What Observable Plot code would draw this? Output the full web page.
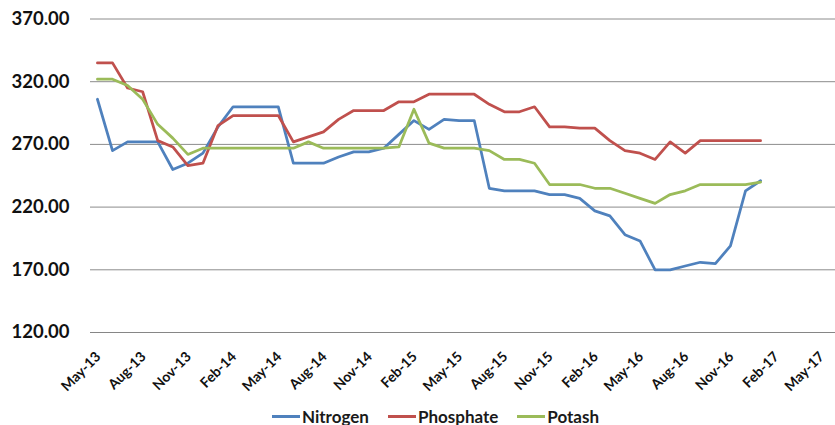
<!DOCTYPE html>
<html><head><meta charset="utf-8">
<script src="https://cdn.jsdelivr.net/npm/d3@7"></script>
<script src="https://cdn.jsdelivr.net/npm/@observablehq/plot@0.6"></script>
<style>
body{margin:0;background:#fff;font-family:Lato,"Open Sans",sans-serif;}
#wrap{position:relative;width:835px;height:425px;overflow:hidden;}
#chart svg{display:block;}
#legend{position:absolute;left:272px;top:405px;height:22px;display:flex;align-items:center;font:bold 17px Lato,sans-serif;color:#1a1a1a;}
.item{display:flex;align-items:center;margin-right:19px;}
.sw{width:28px;height:3px;margin-right:2px;}
</style></head><body>
<div id="wrap"><div id="chart"></div><div id="legend"></div></div>
<script>
const months = ["May-13","Jun-13","Jul-13","Aug-13","Sep-13","Oct-13","Nov-13","Dec-13",
  "Jan-14","Feb-14","Mar-14","Apr-14","May-14","Jun-14","Jul-14","Aug-14","Sep-14","Oct-14","Nov-14","Dec-14",
  "Jan-15","Feb-15","Mar-15","Apr-15","May-15","Jun-15","Jul-15","Aug-15","Sep-15","Oct-15","Nov-15","Dec-15",
  "Jan-16","Feb-16","Mar-16","Apr-16","May-16","Jun-16","Jul-16","Aug-16","Sep-16","Oct-16","Nov-16","Dec-16",
  "Jan-17"];
const tickLabels = ["May-13","Aug-13","Nov-13","Feb-14","May-14","Aug-14","Nov-14","Feb-15","May-15",
  "Aug-15","Nov-15","Feb-16","May-16","Aug-16","Nov-16","Feb-17","May-17"];
const yTicks = [120, 170, 220, 270, 320, 370];
const seriesNames = ["Nitrogen", "Phosphate", "Potash"];
const seriesColors = ["#4F81BD", "#C0504D", "#9BBB59"];

const nitrogen = [306,265,272,272,272,250,255,263,284,300,300,300,300,255,255,255,260,264,264,267,
  278,289,282,290,289,289,235,233,233,233,230,230,227,217,213,198,193,170,170,173,176,175,189,233,241];
const phosphate = [335,335,315,312,273,268,253,255,285,293,293,293,293,272,276,280,290,297,297,297,
  304,304,310,310,310,310,302,296,296,300,284,284,283,283,273,265,263,258,272,263,273,273,273,273,273];
const potash = [322,322,317,306,286,275,262,267,267,267,267,267,267,267,272,267,267,267,267,267,
  268,298,271,267,267,267,265,258,258,255,238,238,238,235,235,231,227,223,230,233,238,238,238,238,240];

const values = [nitrogen, phosphate, potash];
const data = [];
seriesNames.forEach((s, k) => values[k].forEach((v, i) => data.push({series: s, i, month: months[i], value: v})));

// tick position = index of month label in months (3-month steps, May-17 beyond data)
const tickIdx = tickLabels.map((_, k) => k * 3);

const chart = Plot.plot({
  width: 835,
  height: 400,
  marginLeft: 90,
  marginRight: 0,
  marginTop: 18.5,
  marginBottom: 68,
  x: {type: "linear", domain: [-0.46, 48.97]},
  y: {domain: [120, 370]},
  color: {domain: seriesNames, range: seriesColors},
  style: {fontFamily: "Lato, sans-serif", background: "#fff"},
  marks: [
    Plot.gridY(yTicks.slice(1), {stroke: "#8c8c8c", strokeOpacity: 1, strokeWidth: 1}),
    Plot.ruleY([120], {stroke: "#868686", strokeWidth: 1}),
    Plot.axisY({ticks: yTicks, tickSize: 0, tickPadding: 21, tickFormat: d => d.toFixed(2),
      fontSize: 18.5, fontWeight: "bold", fill: "#111", label: null}),
    Plot.axisX({ticks: tickIdx, tickSize: 0, tickRotate: -45, tickFormat: i => tickLabels[i / 3],
      fontSize: 14, fontWeight: "bold", fill: "#111", textAnchor: "end", dx: 1, dy: 10, label: null}),
    Plot.line(data, {x: "i", y: "value", z: "series", stroke: "series", strokeWidth: 2.75,
      strokeLinejoin: "round"})
  ]
});
document.getElementById("chart").appendChild(chart);

const legend = document.getElementById("legend");
seriesNames.forEach((s, k) => {
  const it = document.createElement("div");
  it.className = "item";
  it.innerHTML = `<span class="sw" style="background:${seriesColors[k]}"></span><span>${s}</span>`;
  legend.appendChild(it);
});
</script>
</body></html>
